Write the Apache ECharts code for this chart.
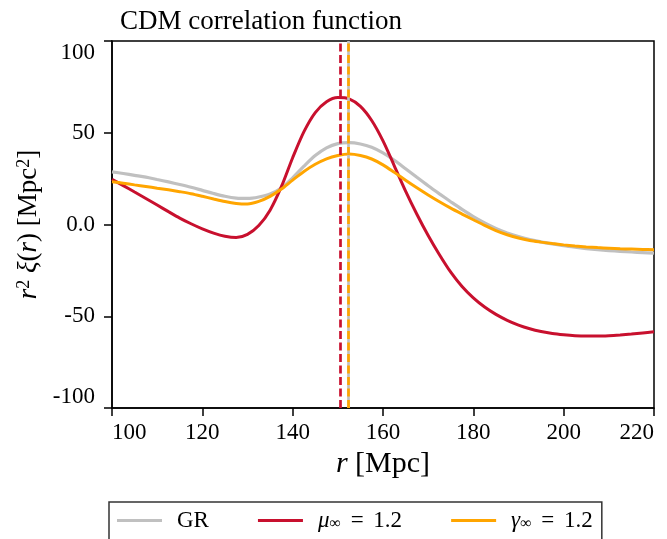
<!DOCTYPE html>
<html>
<head>
<meta charset="utf-8">
<script src="https://cdn.jsdelivr.net/npm/echarts@6/dist/echarts.min.js"></script>
<style>html,body{margin:0;padding:0;background:#fff;}#c{width:667px;height:539px;}</style>
</head>
<body>
<div id="c"></div>
<script>
// ---- data ----
const titleText = 'CDM correlation function';
const xTicks = [100, 120, 140, 160, 180, 200, 220];
const yTicks = [-100, -50, 0, 50, 100];

const rVals = [100,102.5,105,107.5,110,112.5,115,117.5,120,122.5,125,127.5,130,132.5,135,137.5,140,142.5,145,147.5,150,152.5,155,157.5,160,162.5,165,167.5,170,172.5,175,177.5,180,182.5,185,187.5,190,192.5,195,197.5,200,202.5,205,207.5,210,212.5,215,217.5,220];

const xiGR = [28.7,27.8,26.8,25.8,24.5,23.2,21.8,20.3,18.6,16.9,15.4,14.4,14.2,15.0,16.6,19.8,25.4,31.8,37.6,41.8,44.1,44.6,43.9,42.1,39.0,35.0,30.4,25.7,21.1,16.7,12.4,8.2,4.3,0.9,-2.1,-4.6,-6.6,-8.2,-9.5,-10.6,-11.6,-12.4,-13.1,-13.7,-14.2,-14.6,-15.0,-15.3,-15.6];

const xiMu = [24.6,21.2,17.7,14.2,10.6,7.0,3.5,0.4,-2.4,-4.7,-6.4,-7.1,-5.4,-0.6,7.8,20.6,36.4,50.6,61.0,66.9,69.2,68.5,64.4,56.7,45.6,32.0,18.2,5.6,-6.0,-16.5,-26.0,-33.8,-40.0,-45.0,-49.0,-52.2,-54.8,-56.8,-58.3,-59.4,-60.1,-60.6,-60.8,-60.8,-60.6,-60.2,-59.7,-59.1,-58.5];

const xiGa = [23.3,22.5,21.6,20.7,19.8,18.9,17.9,16.8,15.4,13.9,12.5,11.5,11.2,12.6,15.3,19.3,24.2,28.9,32.8,35.8,37.6,38.4,37.6,35.7,32.5,28.4,24.1,20.0,16.1,12.4,8.9,5.7,2.6,-0.5,-3.3,-5.6,-7.4,-8.7,-9.6,-10.4,-11.1,-11.7,-12.2,-12.6,-12.9,-13.2,-13.4,-13.6,-13.7];

const peakGR = 152.4, peakMu = 150.5, peakGa = 152.2;

const names = ['GR', 'μ∞ = 1.2', 'γ∞ = 1.2'];
const colors = ['#c0c0c0', '#c8102e', '#ffa500'];

// ---- chart ----
const FONT = 'Liberation Serif';
const pair = (xs, ys) => xs.map((x, i) => [x, ys[i]]);

function vline(x, color, type, width) {
  const ls = {color: color, type: type, width: width};
  return {
    silent: true, symbol: 'none', animation: false,
    label: {show: false},
    lineStyle: ls,
    emphasis: {disabled: true},
    data: [{xAxis: x, lineStyle: ls}]
  };
}

const chart = echarts.init(document.getElementById('c'), null, {renderer: 'canvas'});
chart.setOption({
  animation: false,
  backgroundColor: '#fff',
  title: {
    text: titleText, left: 115, top: 3,
    textStyle: {fontFamily: FONT, fontWeight: 'normal', fontSize: 27, color: '#000'}
  },
  grid: {left: 112, right: 13, top: 41, bottom: 131, show: true, borderColor: '#000', borderWidth: 1.5, backgroundColor: 'transparent'},
  xAxis: {
    type: 'value', min: xTicks[0], max: xTicks[xTicks.length - 1], interval: 20,
    name: '{i|r} [Mpc]', nameLocation: 'middle', nameGap: 40,
    nameTextStyle: {fontFamily: FONT, fontSize: 30, color: '#000',
      rich: {i: {fontFamily: FONT, fontStyle: 'italic', fontSize: 30}}},
    axisLine: {onZero: false, lineStyle: {color: '#000', width: 1.5}},
    axisTick: {inside: false, length: 8, lineStyle: {color: '#000', width: 1.5}},
    axisLabel: {fontFamily: FONT, fontSize: 23, color: '#000', margin: 13,
      alignMinLabel: 'left', alignMaxLabel: 'right'},
    splitLine: {show: false}
  },
  yAxis: {
    type: 'value', min: yTicks[0], max: yTicks[yTicks.length - 1], interval: 50,
    name: '{i|r}{sup|2} {i|ξ}({i|r}) [Mpc{sup|2}]', nameLocation: 'middle', nameGap: 66,
    nameTextStyle: {fontFamily: FONT, fontSize: 27, color: '#000',
      rich: {
        i: {fontFamily: FONT, fontStyle: 'italic', fontSize: 27},
        sup: {fontFamily: FONT, fontSize: 18, verticalAlign: 'top'}
      }},
    axisLine: {onZero: false, lineStyle: {color: '#000', width: 1.5}},
    axisTick: {inside: false, length: 8, lineStyle: {color: '#000', width: 1.5}},
    axisLabel: {fontFamily: FONT, fontSize: 23, color: '#000', margin: 17,
      verticalAlignMinLabel: 'bottom', verticalAlignMaxLabel: 'top',
      formatter: v => (v === 0 ? '0.0' : String(v))},
    splitLine: {show: false}
  },
  legend: {
    data: names, left: 109, top: 502, orient: 'horizontal',
    icon: 'rect', itemWidth: 45, itemHeight: 3, itemGap: 49,
    padding: [7, 9, 12, 8],
    borderColor: '#333', borderWidth: 1.5, borderRadius: 0, backgroundColor: '#fff',
    formatter: function (n) {
      if (n === names[1]) return '{i|μ}{s|∞} {e|=} 1.2';
      if (n === names[2]) return '{i|γ}{s|∞} {e|=} 1.2';
      return n;
    },
    textStyle: {fontFamily: FONT, fontSize: 23, color: '#000', padding: [0, 0, 0, 10],
      rich: {
        i: {fontFamily: FONT, fontStyle: 'italic', fontSize: 23},
        s: {fontFamily: FONT, fontSize: 16, verticalAlign: 'bottom', lineHeight: 12},
        e: {fontFamily: FONT, fontSize: 23, padding: [0, 4, 0, 4]}
      }}
  },
  series: [
    {name: names[0], type: 'line', data: pair(rVals, xiGR), showSymbol: false, smooth: 0.3,
     color: colors[0], lineStyle: {width: 3.2, color: colors[0]}, z: 2,
     markLine: vline(peakGR, colors[0], 'solid', 2.7)},
    {name: names[1], type: 'line', data: pair(rVals, xiMu), showSymbol: false, smooth: 0.3,
     color: colors[1], lineStyle: {width: 3, color: colors[1]}, z: 3,
     markLine: vline(peakMu, colors[1], [8, 3.5], 2.7)},
    {name: names[2], type: 'line', data: pair(rVals, xiGa), showSymbol: false, smooth: 0.3,
     color: colors[2], lineStyle: {width: 3, color: colors[2]}, z: 4,
     markLine: vline(peakGa, colors[2], [8, 3.5], 2.7)}
  ]
});
</script>
</body>
</html>
